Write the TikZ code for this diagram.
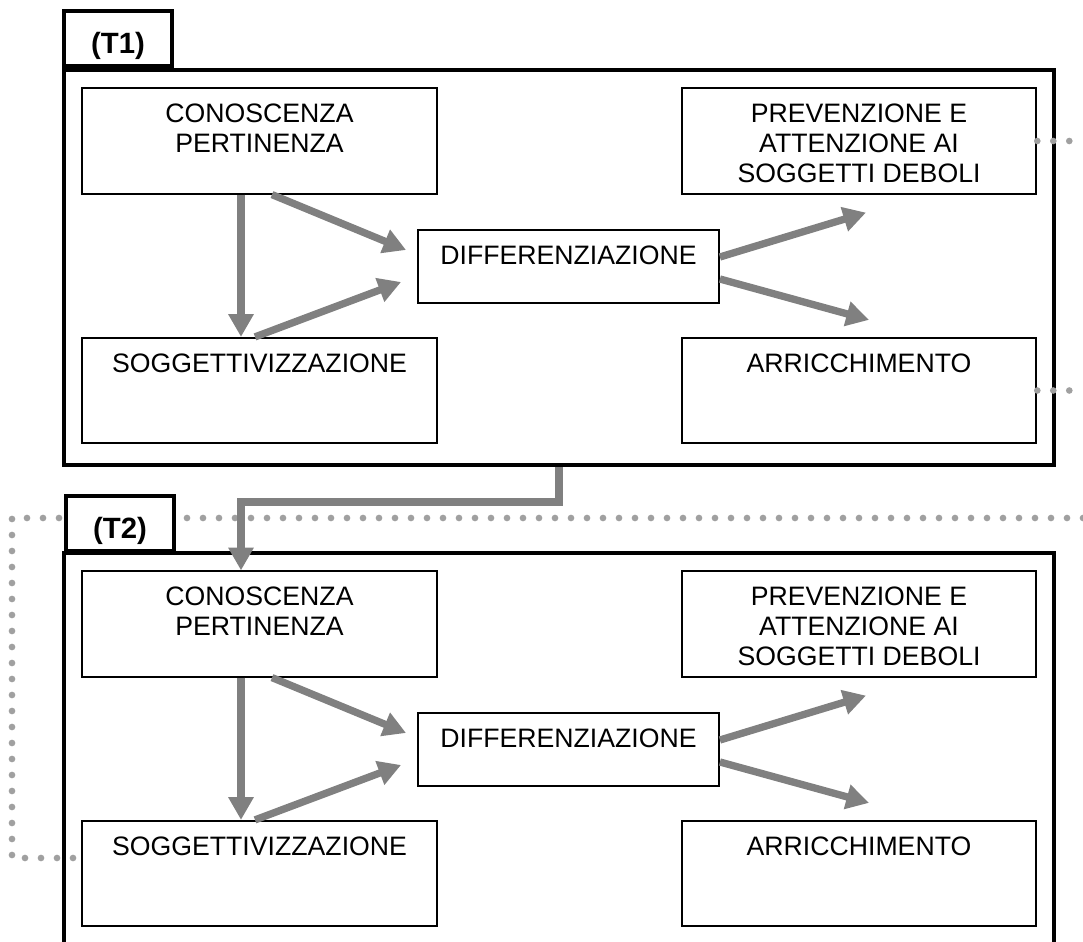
\documentclass[tikz,border=0pt]{standalone}
\usepackage{fontspec}
\setmainfont{Liberation Sans}
\usepackage{xcolor}
\usetikzlibrary{positioning, arrows.meta, calc}

\definecolor{arrowgray}{RGB}{128,128,128}
\definecolor{dotgray}{RGB}{160,160,160}

\begin{document}
\begin{tikzpicture}[x=0.75pt, y=-0.75pt,
    blk/.style={draw, line width=1.4pt, minimum width=266pt, minimum height=79pt, inner sep=0pt},
    diffblk/.style={blk, minimum width=225.75pt, minimum height=54.75pt},
    txt/.style={align=center, inner sep=0pt, font=\fontsize{20}{22.5}\selectfont},
    panel/.style={draw, line width=3pt},
    tabbox/.style={panel, fill=white, minimum width=81pt, minimum height=41pt, inner sep=0pt,
        text height=22pt, text depth=0pt, font=\bfseries\fontsize{22}{26}\selectfont},
    flow/.style={draw=arrowgray, line width=5.5pt, -{Triangle[length=17pt,width=18pt]}},
    dotline/.style={draw=dotgray, line width=5pt, line cap=round, dash pattern=on 0pt off 12pt}]

  \useasboundingbox (0,0) rectangle (1083,942);

  % the two phases
  \node[panel, minimum width=742.5pt, minimum height=296.25pt, inner sep=0pt] (f1) at (559,267.5) {};
  \draw[panel] (64,942) |- (1054,553) -- (1054,942);

  \foreach \i/\dy in {1/0, 2/483} {
    \node[blk] (c\i) at (259.5,141+\dy) {};
    \node[blk] (p\i) at (859,141+\dy) {};
    \node[diffblk] (d\i) at (568.5,266.5+\dy) {};
    \node[blk] (s\i) at (259.5,390.5+\dy) {};
    \node[blk] (a\i) at (859,390.5+\dy) {};

    \node[txt, below=12.5pt of c\i.north] (ct\i) {CONOSCENZA\\PERTINENZA};
    \node[txt, below=12.5pt of p\i.north] (pt\i) {PREVENZIONE E\\ATTENZIONE AI\\SOGGETTI DEBOLI};
    \node[txt, below=12.5pt of d\i.north] (dt\i) {DIFFERENZIAZIONE};
    \node[txt, below=12.5pt of s\i.north] (st\i) {SOGGETTIVIZZAZIONE};
    \node[txt, below=12.5pt of a\i.north] (at\i) {ARRICCHIMENTO};

    \coordinate (in1-\i) at ($(d\i.west)+(-11,-16.5)$);
    \coordinate (in2-\i) at ($(d\i.west)+(-16,15.5)$);
    \coordinate (out1-\i) at ($(p\i.south)+(7,18)$);
    \coordinate (out2-\i) at ($(a\i.north)+(10,-17)$);

    \draw[flow] ($(c\i.south)+(-18.5,0)$) -- ($(s\i.north)+(-18.5,0)$);
    \draw[flow] ($(c\i.south)+(12.5,0)$) -- (in1-\i);
    \draw[flow] ($(s\i.north)+(-4.5,0)$) -- (in2-\i);
    \draw[flow] ($(d\i.east)+(0,-9.5)$) -- (out1-\i);
    \draw[flow] ($(d\i.east)+(0,12.5)$) -- (out2-\i);
  }

  % dotted feedback lines
  \coordinate (rimA) at (1083,141);
  \coordinate (rimB) at (1083,390.5);
  \coordinate (loopR) at (1083,518);
  \coordinate (loopL) at (12,518);
  \draw[dotline] (p1.east) -- (rimA);
  \draw[dotline] (a1.east) -- (rimB);
  \draw[dotline] (loopR) -- (loopL) |- ($(s2.west)+(0,-15.5)$);

  % tabs
  \node[tabbox, anchor=south west] (t1) at (f1.north west) {(T1)};
  \node[tabbox, anchor=south west] (t2) at (64,553) {(T2)};

  % T1 -> T2
  \draw[flow] (f1.south) -- ++(0,35) -| ($(c2.north)+(-18.5,0)$);
\end{tikzpicture}
\end{document}
